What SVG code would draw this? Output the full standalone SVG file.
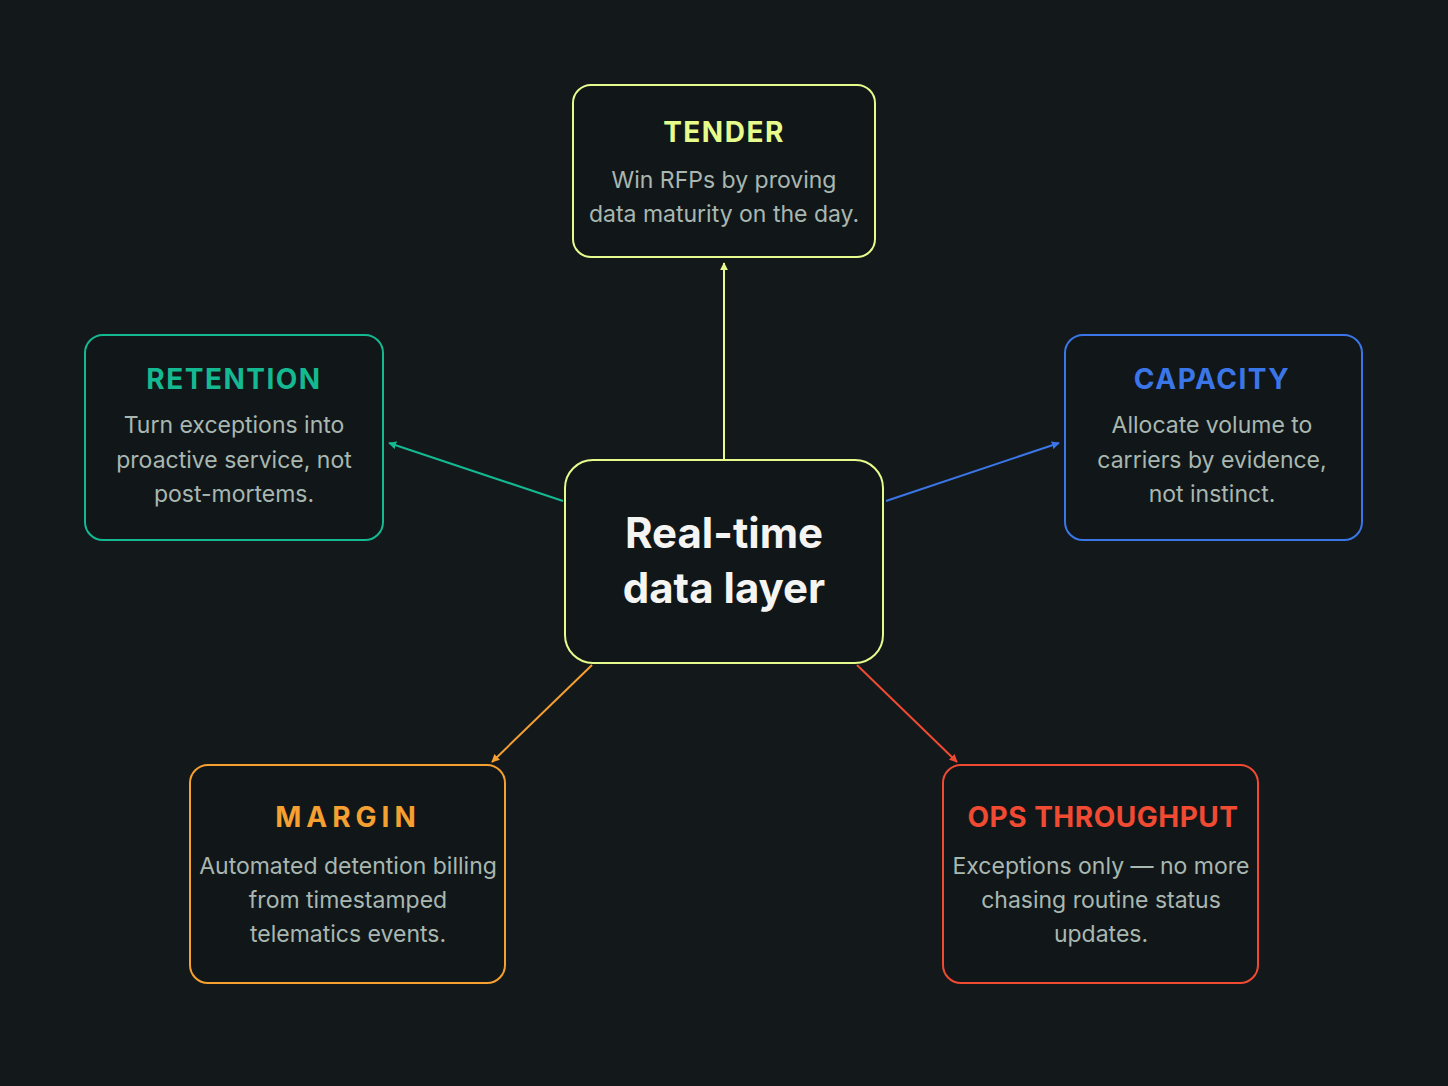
<svg xmlns="http://www.w3.org/2000/svg" width="1448" height="1086" viewBox="0 0 1448 1086">
<style>
.box{fill:#111719;stroke-width:2}
.t{font-family:Inter,"Liberation Sans",sans-serif;font-weight:700;font-size:28px;text-anchor:middle;letter-spacing:1.5px}
.b{font-family:Inter,"Liberation Sans",sans-serif;font-weight:400;font-size:23px;fill:#a9b7b1;text-anchor:middle}
.c{font-family:Inter,"Liberation Sans",sans-serif;font-weight:700;font-size:42px;fill:#f4f4f2;text-anchor:middle}
.e{stroke-width:2;fill:none}
</style>
<defs>
<marker id="ay" viewBox="0 0 10 10" refX="9" refY="5" markerWidth="8" markerHeight="8" markerUnits="userSpaceOnUse" orient="auto"><path d="M0,0L10,5L0,10z" fill="#e6fb8c"/></marker>
<marker id="ag" viewBox="0 0 10 10" refX="9" refY="5" markerWidth="8" markerHeight="8" markerUnits="userSpaceOnUse" orient="auto"><path d="M0,0L10,5L0,10z" fill="#14b891"/></marker>
<marker id="ab" viewBox="0 0 10 10" refX="9" refY="5" markerWidth="8" markerHeight="8" markerUnits="userSpaceOnUse" orient="auto"><path d="M0,0L10,5L0,10z" fill="#3b76e8"/></marker>
<marker id="ao" viewBox="0 0 10 10" refX="9" refY="5" markerWidth="8" markerHeight="8" markerUnits="userSpaceOnUse" orient="auto"><path d="M0,0L10,5L0,10z" fill="#f5a030"/></marker>
<marker id="ar" viewBox="0 0 10 10" refX="9" refY="5" markerWidth="8" markerHeight="8" markerUnits="userSpaceOnUse" orient="auto"><path d="M0,0L10,5L0,10z" fill="#f04a32"/></marker>
</defs>
<rect width="1448" height="1086" fill="#13191b"/>
<g id="connectors">
<line class="e" x1="724" y1="459" x2="724" y2="263" stroke="#e6fb8c" marker-end="url(#ay)"/>
<line class="e" x1="563" y1="501" x2="389" y2="443" stroke="#14b891" marker-end="url(#ag)"/>
<line class="e" x1="886" y1="501" x2="1059" y2="443" stroke="#3b76e8" marker-end="url(#ab)"/>
<line class="e" x1="592" y1="665" x2="492" y2="762" stroke="#f5a030" marker-end="url(#ao)"/>
<line class="e" x1="857" y1="665" x2="957" y2="762" stroke="#f04a32" marker-end="url(#ar)"/>
</g>
<g id="center">
<rect class="box" x="565" y="460" width="318" height="203" rx="28" stroke="#e6fb8c"/>
<text class="c" x="724" y="548">Real-time</text>
<text class="c" x="724" y="603">data layer</text>
</g>
<g id="tender">
<rect class="box" x="573" y="85" width="302" height="172" rx="18" stroke="#e6fb8c"/>
<text class="t" x="724" y="142" fill="#e6fb8c">TENDER</text>
<text class="b" x="724" y="188">Win RFPs by proving</text>
<text class="b" x="724" y="222">data maturity on the day.</text>
</g>
<g id="retention">
<rect class="box" x="85" y="335" width="298" height="205" rx="18" stroke="#14b891"/>
<text class="t" x="234" y="389" fill="#14b891">RETENTION</text>
<text class="b" x="234" y="433">Turn exceptions into</text>
<text class="b" x="234" y="468">proactive service, not</text>
<text class="b" x="234" y="502">post-mortems.</text>
</g>
<g id="capacity">
<rect class="box" x="1065" y="335" width="297" height="205" rx="18" stroke="#3b76e8"/>
<text class="t" x="1212" y="389" fill="#3b76e8">CAPACITY</text>
<text class="b" x="1212" y="433">Allocate volume to</text>
<text class="b" x="1212" y="468">carriers by evidence,</text>
<text class="b" x="1212" y="502">not instinct.</text>
</g>
<g id="margin">
<rect class="box" x="190" y="765" width="315" height="218" rx="18" stroke="#f5a030"/>
<text class="t" x="348" y="827" fill="#f5a030" style="letter-spacing:5px">MARGIN</text>
<text class="b" x="348" y="874">Automated detention billing</text>
<text class="b" x="348" y="908">from timestamped</text>
<text class="b" x="348" y="942">telematics events.</text>
</g>
<g id="ops">
<rect class="box" x="943" y="765" width="315" height="218" rx="18" stroke="#f04a32"/>
<text class="t" x="1103" y="827" fill="#f04a32" style="letter-spacing:0.5px">OPS THROUGHPUT</text>
<text class="b" x="1101" y="874">Exceptions only — no more</text>
<text class="b" x="1101" y="908">chasing routine status</text>
<text class="b" x="1101" y="942">updates.</text>
</g>
</svg>
